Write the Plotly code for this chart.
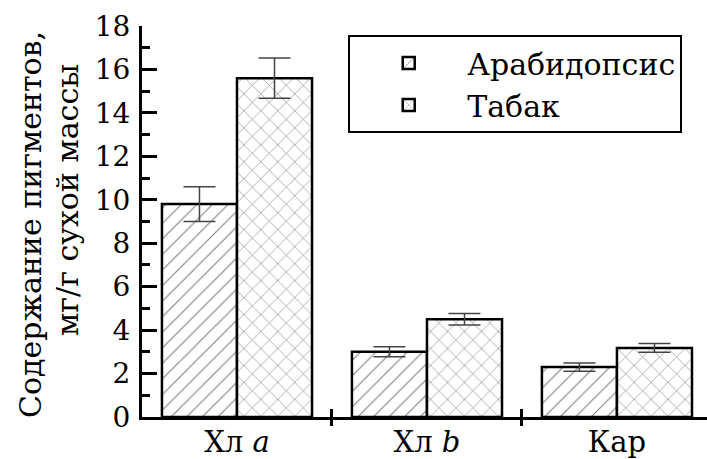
import plotly.graph_objects as go

categories = ["Хл a", "Хл b", "Кар"]
category_labels = ["Хл <i>a</i>", "Хл <i>b</i>", "Кар"]
series_names = ["Арабидопсис", "Табак"]
arab_values = [9.8, 3.0, 2.3]
arab_errors = [0.8, 0.23, 0.19]
tabak_values = [15.6, 4.5, 3.18]
tabak_errors = [0.93, 0.27, 0.2]
y_ticks = [0, 2, 4, 6, 8, 10, 12, 14, 16, 18]
boundary_ticks = [0.5, 1.5]

FONT = "DejaVu Serif"

fig = go.Figure()
fig.add_trace(go.Bar(
    name=series_names[0], x=categories, y=arab_values,
    error_y=dict(type="data", array=arab_errors, color="#444444", thickness=1.5, width=16),
    marker=dict(color="white", line=dict(color="black", width=2.5),
                pattern=dict(shape="/", size=11, solidity=0.1, fgcolor="black", bgcolor="white")),
))
fig.add_trace(go.Bar(
    name=series_names[1], x=categories, y=tabak_values,
    error_y=dict(type="data", array=tabak_errors, color="#444444", thickness=1.5, width=16),
    marker=dict(color="white", line=dict(color="black", width=2.5),
                pattern=dict(shape="x", size=12, solidity=0.1, fgcolor="black", bgcolor="white")),
))
# empty helper trace so the overlaid tick axis is drawn
fig.add_trace(go.Scatter(x=[], y=[], xaxis="x2", yaxis="y", showlegend=False, hoverinfo="skip"))

fig.update_layout(
    width=707, height=459,
    margin=dict(l=142, r=0, t=26, b=42, autoexpand=False),
    paper_bgcolor="white", plot_bgcolor="white",
    barmode="group", bargap=0.21, bargroupgap=0,
    font=dict(family=FONT, size=28, color="black"),
    showlegend=True,
    legend=dict(x=0.365, y=0.977, xanchor="left", yanchor="top",
                bordercolor="black", borderwidth=2, bgcolor="white",
                itemwidth=107,
                font=dict(family=FONT, size=30)),
    xaxis=dict(
        type="category", range=[-0.5, 2.474], automargin=False,
        tickvals=categories, ticktext=category_labels,
        tickson="boundaries", ticks="inside", ticklen=8, tickwidth=3, tickcolor="black",
        showline=True, linewidth=3, linecolor="black", showgrid=False, zeroline=False,
        tickfont=dict(family=FONT, size=29),
    ),
    xaxis2=dict(
        overlaying="x", anchor="y", side="bottom", range=[-0.5, 2.474], automargin=False,
        tickvals=boundary_ticks, ticks="outside", ticklen=8, tickwidth=3, tickcolor="black",
        showticklabels=False, showline=False, showgrid=False, zeroline=False,
    ),
    yaxis=dict(
        range=[0, 18], tickvals=y_ticks, ticks="inside", ticklen=15, tickwidth=3, tickcolor="black",
        minor=dict(dtick=1, ticks="inside", ticklen=8, tickwidth=3, tickcolor="black", showgrid=False),
        showline=True, linewidth=3, linecolor="black", showgrid=False, zeroline=False,
        ticklabelstandoff=3, automargin=False,
        tickfont=dict(family=FONT, size=28),
    ),
)

try:
    fig.update_layout(xaxis_ticklabelstandoff=-3)
except ValueError:
    fig.update_layout(xaxis_ticklabelstandoff=0)

fig.add_annotation(text="Содержание пигментов,", xref="paper", yref="paper",
                   x=0, y=0.491, xshift=-112, xanchor="center", yanchor="middle",
                   textangle=-90, showarrow=False, font=dict(family=FONT, size=30))
fig.add_annotation(text="мг/г сухой массы", xref="paper", yref="paper",
                   x=0, y=0.555, xshift=-74, xanchor="center", yanchor="middle",
                   textangle=-90, showarrow=False, font=dict(family=FONT, size=30))

fig.write_html("out.html", config={"displayModeBar": False},
               post_script="document.body.style.margin='0';")
